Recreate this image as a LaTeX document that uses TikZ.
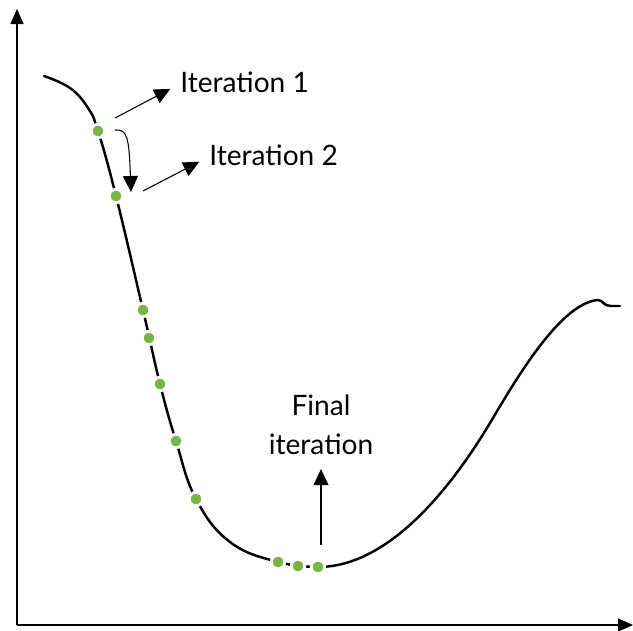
\documentclass[tikz,border=0pt]{standalone}
\usepackage{fontspec}
\setmainfont{Lato}
\usetikzlibrary{arrows.meta,positioning}
\definecolor{dotgreen}{RGB}{118,181,70}

\begin{document}
\begin{tikzpicture}[x=0.02cm, y=-0.02cm, >=Triangle]
\tikzset{
  ax/.style={line width=0.8pt, -{Triangle[length=3mm, width=2.6mm]}},
  pt/.style={circle, fill=dotgreen, draw=white, line width=1.6pt, minimum size=0.27cm, inner sep=0pt},
  lab/.style={font=\fontsize{16}{20}\selectfont, align=center, inner sep=0pt},
  ann/.style={line width=0.6pt, -{Triangle[length=3.2mm, width=3mm]}}
}
\useasboundingbox (0,0) rectangle (633,630);
\coordinate (o) at (17,625);
\coordinate (ytop) at (17,9);
\coordinate (xend) at (633,625);
\draw[ax] (o) -- (ytop);
\draw[ax] (o) -- (xend);
\draw[line width=1.4pt, line cap=round] plot[smooth, tension=0.7] coordinates {
  (44,76) (70,88) (88,108) (98,131) (116,196) (143,310) (160,384) (176,441)
  (196,499) (230,542) (278,562) (318,567)}
  .. controls (395,567) and (460,473) .. (490,423)
  .. controls (515,381) and (560,303) .. (598,300)
  -- (601,301) -- (606,305) -- (611,306) -- (620,306);
\node[pt] (it1) at (98,131) {};
\node[pt] (it2) at (116,196) {};
\node[pt] (p3) at (143,310) {};
\node[pt] (p4) at (149,338) {};
\node[pt] (p5) at (160,384) {};
\node[pt] (p6) at (176,441) {};
\node[pt] (p7) at (196,499) {};
\node[pt] (f1) at (278,562) {};
\node[pt] (f2) at (298,566) {};
\node[pt] (f3) at (318,567) {};
\node[lab, anchor=west] (l1) at (180,82) {Iteration 1};
\node[lab, anchor=west] (l2) at (209,155) {Iteration 2};
\node[lab] (lf) at (321,425) {Final\\[2pt]iteration};
\coordinate (s1) at (115,118);
\coordinate (s2) at (143,191);
\coordinate (b1) at (115,130);
\coordinate (b2) at (131,192);
\coordinate (sf) at (321,545);
\draw[ann, shorten >=0.22cm] (s1) -- ([yshift=-1pt]l1.west);
\draw[ann, shorten >=0.22cm] (s2) -- ([yshift=-1pt]l2.west);
\draw[ann] (b1) .. controls (127,129) and (129,136) .. (b2);
\draw[ann, shorten >=0.28cm] (sf) -- (lf.south);
\end{tikzpicture}
\end{document}
